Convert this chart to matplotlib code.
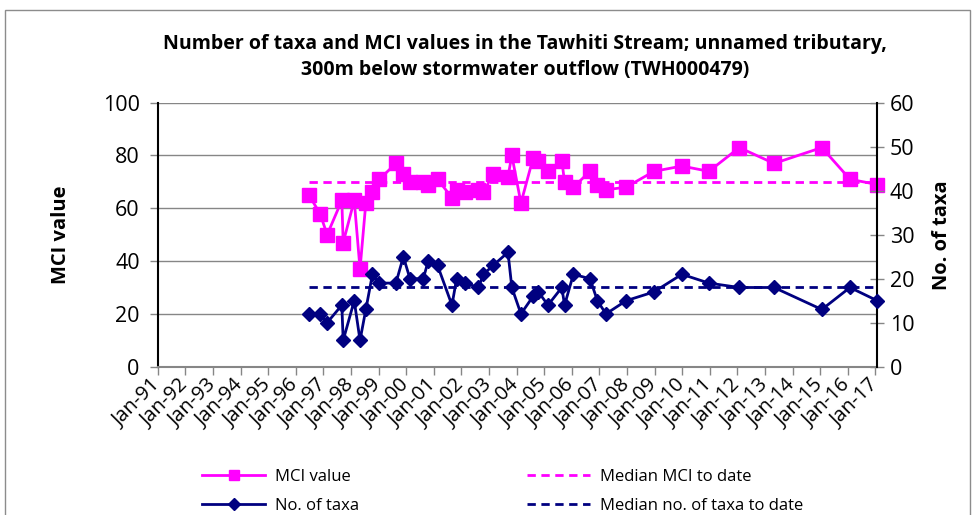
import matplotlib
matplotlib.use("Agg")
import matplotlib.pyplot as plt
from matplotlib.patches import Rectangle
from matplotlib.lines import Line2D

# ---- data ----
sample_dates = [1996.48, 1996.88, 1997.14, 1997.67, 1997.72, 1998.12, 1998.33, 1998.54,
                1998.78, 1999.03, 1999.63, 1999.90, 2000.14, 2000.62, 2000.80, 2001.14,
                2001.66, 2001.83, 2002.13, 2002.62, 2002.80, 2003.15, 2003.69, 2003.83,
                2004.16, 2004.60, 2004.79, 2005.14, 2005.64, 2005.74, 2006.06, 2006.66,
                2006.93, 2007.24, 2007.97, 2008.98, 2009.99, 2010.97, 2012.07, 2013.33,
                2015.06, 2016.08, 2017.07]
mci_values = [65, 58, 50, 63, 47, 63, 37, 62,
              66, 71, 77, 73, 70, 70, 69, 71,
              64, 67, 66, 67, 66, 73, 72, 80,
              62, 79, 78, 74, 78, 70, 68, 74,
              69, 67, 68, 74, 76, 74, 83, 77,
              83, 71, 69]
taxa_values = [12, 12, 10, 14, 6, 15, 6, 13,
               21, 19, 19, 25, 20, 20, 24, 23,
               14, 20, 19, 18, 21, 23, 26, 18,
               12, 16, 17, 14, 18, 14, 21, 20,
               15, 12, 15, 17, 21, 19, 18, 18,
               13, 18, 15]
median_mci = 70
median_taxa = 18
tick_years = list(range(1991, 2018))
tick_labels = ["Jan-91", "Jan-92", "Jan-93", "Jan-94", "Jan-95", "Jan-96", "Jan-97",
               "Jan-98", "Jan-99", "Jan-00", "Jan-01", "Jan-02", "Jan-03", "Jan-04",
               "Jan-05", "Jan-06", "Jan-07", "Jan-08", "Jan-09", "Jan-10", "Jan-11",
               "Jan-12", "Jan-13", "Jan-14", "Jan-15", "Jan-16", "Jan-17"]
title = ("Number of taxa and MCI values in the Tawhiti Stream; unnamed tributary,\n"
         "300m below stormwater outflow (TWH000479)")

plt.rcParams['font.family'] = ['Open Sans', 'DejaVu Sans']

MAG = '#FF00FF'
NAVY = '#000080'
GRID = '#868686'

fig = plt.figure(figsize=(9.75, 5.15), dpi=100)
W, H = 975, 515

# outer frame
fig.patches.append(Rectangle((5 / W, -0.02), 965 / W, 1 - 10 / H + 0.02,
                             transform=fig.transFigure, fill=False,
                             edgecolor='#8c8c8c', lw=1.0))

ax = fig.add_axes([157.7 / W, 1 - 366.7 / H, (877.3 - 157.7) / W, (366.7 - 102.7) / H])
ax.set_facecolor('none')
ax2 = ax.twinx()

xmin, xmax = 1991.0, 2017.07
ax.set_xlim(xmin, xmax)
ax.set_ylim(0, 100)
ax2.set_ylim(0, 60)

# gridlines
ax.set_yticks([0, 20, 40, 60, 80, 100])
ax.yaxis.grid(True, color=GRID, lw=1.0)
ax.set_axisbelow(True)

# medians
ax.plot([sample_dates[0], sample_dates[-1]], [median_mci, median_mci], color=MAG,
        lw=2.0, ls=(0, (3, 2)), zorder=2)
ax2.plot([sample_dates[0], sample_dates[-1]], [median_taxa, median_taxa], color=NAVY,
         lw=2.0, ls=(0, (3, 2)), zorder=2)

# series
ax.plot(sample_dates, mci_values, color=MAG, lw=2.0, marker='s', ms=9.5,
        markeredgecolor=MAG, zorder=3, clip_on=False)
ax2.plot(sample_dates, taxa_values, color=NAVY, lw=2.0, marker='D', ms=7,
         markeredgecolor=NAVY, zorder=3, clip_on=False)

# spines
for a in (ax, ax2):
    a.spines['top'].set_visible(False)
ax.spines['left'].set_color('black')
ax.spines['left'].set_linewidth(1.5)
ax.spines['bottom'].set_color(GRID)
ax.spines['bottom'].set_linewidth(1.5)
ax.spines['right'].set_visible(False)
ax2.spines['left'].set_visible(False)
ax2.spines['bottom'].set_visible(False)
ax2.spines['right'].set_color('black')
ax2.spines['right'].set_linewidth(1.5)

ax.set_xticks(tick_years)
ax.set_xticklabels(tick_labels, rotation=45, ha='right', va='center',
                   rotation_mode='anchor', fontsize=14.5)
ax.tick_params(axis='x', direction='out', length=6, color=GRID, width=1, pad=5)
ax.tick_params(axis='y', direction='out', length=6, color=GRID, width=1,
               labelsize=15.5, pad=7)
ax2.set_yticks([0, 10, 20, 30, 40, 50, 60])
ax2.tick_params(axis='y', direction='inout', length=10, color=GRID, width=1,
                labelsize=15.5, pad=4)

ax.set_ylabel("MCI value", fontsize=14.5, fontweight='bold', labelpad=23)
ax2.set_ylabel("No. of taxa", fontsize=14.5, fontweight='bold', labelpad=13)

fig.text(525 / W, 1 - 57 / H, title, ha='center', va='center', fontsize=14,
         fontweight='bold', linespacing=1.45)

handles = [
    Line2D([], [], color=MAG, lw=2.0, marker='s', ms=7.5),
    Line2D([], [], color=NAVY, lw=2.0, marker='D', ms=6),
    Line2D([], [], color=MAG, lw=2.0, ls=(0, (3, 2))),
    Line2D([], [], color=NAVY, lw=2.0, ls=(0, (3, 2))),
]
labels = ["MCI value", "No. of taxa", "Median MCI to date", "Median no. of taxa to date"]
fig.legend(handles, labels, ncol=2, loc='upper left',
           bbox_to_anchor=(202 / W, 1 - 469 / H), frameon=False, fontsize=12,
           handlelength=3.8, handletextpad=0.6, columnspacing=10.05,
           labelspacing=0.75, borderpad=0, borderaxespad=0)

fig.savefig("out.png", dpi=100)
